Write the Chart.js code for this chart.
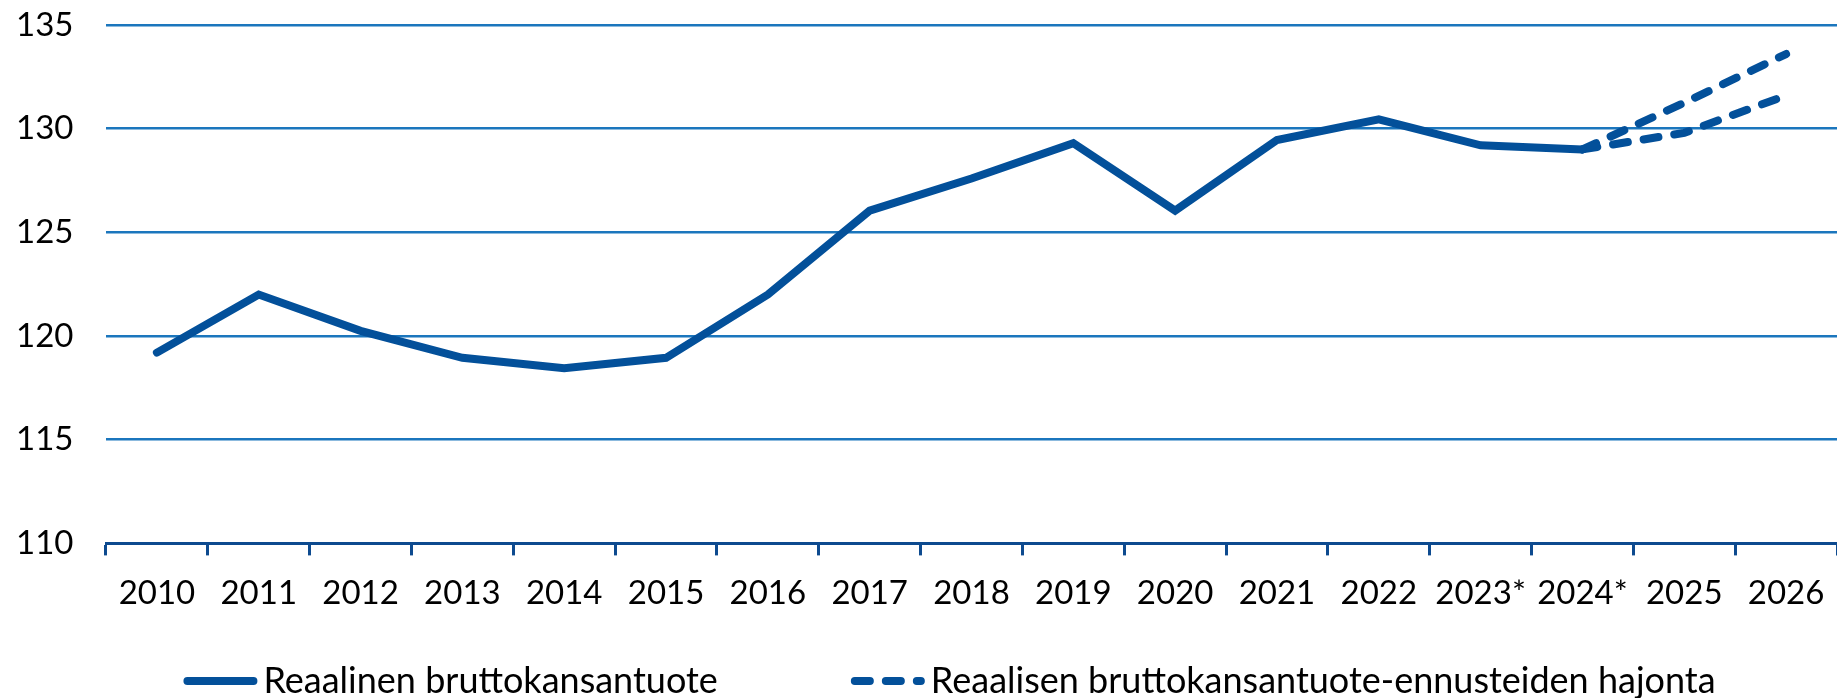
<!DOCTYPE html>
<html>
<head>
<meta charset="utf-8">
<script src="https://cdn.jsdelivr.net/npm/chart.js@4.4.1/dist/chart.umd.min.js"></script>
<style>
  html, body { margin: 0; padding: 0; background: #ffffff; }
  #wrap { width: 1837px; height: 698px; position: relative; }
</style>
</head>
<body>
<div id="wrap"><canvas id="c"></canvas></div>
<script>
const categories = ['2010','2011','2012','2013','2014','2015','2016','2017','2018','2019','2020','2021','2022','2023*','2024*','2025','2026'];
const realGdp = [119.2, 122.0, 120.25, 118.95, 118.45, 118.95, 122.0, 126.05, 127.6, 129.3, 126.05, 129.45, 130.45, 129.2, 129.0, null, null];
const forecastHigh = [null, null, null, null, null, null, null, null, null, null, null, null, null, null, 129.0, 131.25, 133.6];
const forecastLow = [null, null, null, null, null, null, null, null, null, null, null, null, null, null, 129.0, 129.8, 131.6];
const yTicks = [110, 115, 120, 125, 130, 135];
const seriesLabels = ['Reaalinen bruttokansantuote', 'Reaalisen bruttokansantuote-ennusteiden hajonta', ''];

const lineColor = '#03509a';
const gridColor = '#1b76bd';
const axisColor = '#0d4a8f';
const fontFamily = 'Lato, "Noto Sans", sans-serif';

// Custom legend drawn at the bottom from the datasets' own styles
const bottomLegend = {
  id: 'bottomLegend',
  afterDraw(chart) {
    const ctx = chart.ctx;
    const items = chart.data.datasets.filter(ds => ds.label);
    const sampleLen = 66, cap = 4, textGap = 6, itemGap = 133;
    ctx.save();
    ctx.font = '36px ' + fontFamily;
    const widths = items.map(ds => cap + sampleLen + cap + textGap + ctx.measureText(ds.label).width);
    const total = widths.reduce((a, b) => a + b, 0) + itemGap * (items.length - 1);
    const centre = (chart.chartArea.left + chart.chartArea.right) / 2 - 22;
    let x = centre - total / 2;
    const yLine = 681, yText = 693;
    items.forEach((ds, i) => {
      ctx.beginPath();
      ctx.strokeStyle = ds.borderColor;
      ctx.lineWidth = ds.borderWidth;
      ctx.lineCap = 'round';
      ctx.setLineDash(ds.borderDash || []);
      ctx.moveTo(x + cap, yLine);
      ctx.lineTo(x + cap + sampleLen, yLine);
      ctx.stroke();
      ctx.setLineDash([]);
      ctx.fillStyle = '#000000';
      ctx.textBaseline = 'alphabetic';
      ctx.textAlign = 'left';
      ctx.fillText(ds.label, x + cap + sampleLen + cap + textGap, yText);
      x += widths[i] + itemGap;
    });
    ctx.restore();
  }
};

new Chart(document.getElementById('c'), {
  type: 'line',
  data: {
    labels: categories,
    datasets: [
      { label: seriesLabels[0], data: realGdp, borderColor: lineColor, backgroundColor: lineColor,
        borderWidth: 8, pointRadius: 0, tension: 0, borderCapStyle: 'round', spanGaps: false },
      { label: seriesLabels[1], data: forecastHigh, borderColor: lineColor, backgroundColor: lineColor,
        borderWidth: 8, pointRadius: 0, tension: 0, borderDash: [15, 16], borderCapStyle: 'round' },
      { label: seriesLabels[2], data: forecastLow, borderColor: lineColor, backgroundColor: lineColor,
        borderWidth: 8, pointRadius: 0, tension: 0, borderDash: [15, 16], borderCapStyle: 'round' }
    ]
  },
  plugins: [bottomLegend],
  options: {
    responsive: true,
    maintainAspectRatio: false,
    animation: false,
    layout: { padding: { top: 25, right: 0, left: 16, bottom: 67 } },
    plugins: {
      tooltip: { enabled: false },
      legend: { display: false }
    },
    scales: {
      x: {
        offset: true,
        afterFit: (scale) => { scale.paddingLeft = 0; scale.paddingRight = 0; },
        grid: { offset: true, drawOnChartArea: false, drawTicks: true, tickLength: 12, tickColor: axisColor, tickWidth: 3 },
        border: { display: true, color: axisColor, width: 3 },
        ticks: { color: '#000000', font: { family: fontFamily, size: 33 }, padding: 18, maxRotation: 0, autoSkip: false }
      },
      y: {
        min: 110, max: 135,
        afterBuildTicks: (scale) => { scale.ticks = yTicks.map(v => ({ value: v })); },
        afterFit: (scale) => { scale.width = 90; },
        grid: { color: gridColor, lineWidth: 2.5, drawTicks: false },
        border: { display: false },
        ticks: { color: '#000000', font: { family: fontFamily, size: 33 }, padding: 0, crossAlign: 'far' }
      }
    }
  }
});
</script>
</body>
</html>
